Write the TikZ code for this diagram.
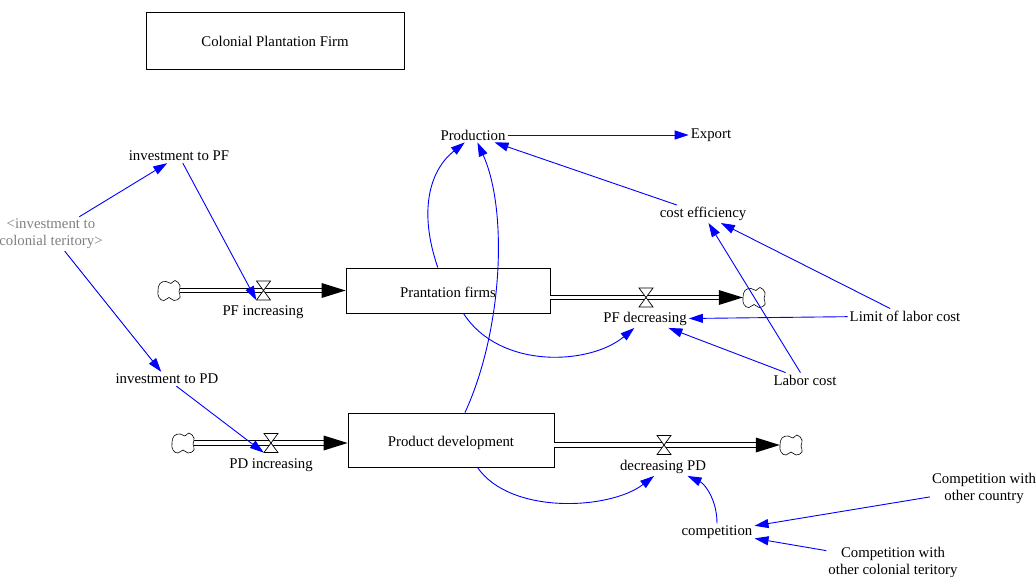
\documentclass[tikz,border=0pt]{standalone}
\usepackage{fontspec}
\setmainfont{Liberation Serif}
\usetikzlibrary{arrows.meta}
\begin{document}
\begin{tikzpicture}[x=1pt,y=-1pt,
  txt/.style={font=\fontsize{14.8}{17}\selectfont, inner sep=2pt, align=center, yshift=-2pt},
  stock/.style={draw=black, line width=0.8pt, fill=white, inner sep=0pt,
    font=\fontsize{14.8}{17}\selectfont},
  link/.style={draw=blue, line width=0.9pt, -{Triangle[length=14pt,width=9pt]}},
  pipe/.style={draw=black, line width=1pt, double=white, double distance=3.4pt, shorten >=20pt},
  valvenode/.style={minimum width=14pt, minimum height=19pt, inner sep=0pt},
  cloudnode/.style={minimum width=22pt, minimum height=20pt, inner sep=0pt},
  valve/.pic={
    \filldraw[fill=white, draw=black, line width=0.7pt] (-7,-9.5) -- (7,-9.5) -- (0,0) -- cycle;
    \filldraw[fill=white, draw=black, line width=0.7pt] (-7,9.5) -- (7,9.5) -- (0,0) -- cycle;
  },
  cloud/.pic={
    \draw[black, line width=0.6pt, fill=white] plot[smooth cycle, tension=0.8] coordinates
      {(-11,0) (-9,-7) (-3,-9) (2,-7) (6,-10) (11,-5) (10,1) (11,7) (5,10) (0,7) (-5,10) (-10,7)};
  }
]
\useasboundingbox (0,0) rectangle (1036,576);

% title
\node[stock, minimum width=258pt, minimum height=57pt, text height=12pt, text depth=0pt] (title) at (275,40.5) {Colonial Plantation Firm};

% stocks
\node[stock, minimum width=204pt, minimum height=45pt, text height=14pt, text depth=0pt] (boxPF) at (448,290.5) {Prantation firms};
\node[stock, minimum width=206pt, minimum height=54pt, text height=14pt, text depth=0.5pt] (boxPD) at (451,440) {Product development};

% clouds and valves (positions)
\node[cloudnode] (cPFi) at (169,290.5) {};
\node[cloudnode] (cPFo) at (754,297.5) {};
\node[cloudnode] (cPDi) at (183,443) {};
\node[cloudnode] (cPDo) at (791,445) {};
\node[valvenode] (vPFi) at (263.5,290.5) {};
\node[valvenode] (vPFo) at (646,297.5) {};
\node[valvenode] (vPDi) at (271,443) {};
\node[valvenode] (vPDo) at (664,445) {};

% pipes
\draw[pipe] (cPFi.east) -- (boxPF.west |- cPFi);
\draw[pipe] (boxPF.east |- cPFo) -- (cPFo.west);
\draw[pipe] (cPDi.east) -- (boxPD.west |- cPDi);
\draw[pipe] (boxPD.east |- cPDo) -- (cPDo.west);
\fill[black] (boxPF.west |- cPFi) -- ++(-24,-7.5) -- ++(0,15) -- cycle;
\fill[black] (cPFo.west) -- ++(-24,-7.5) -- ++(0,15) -- cycle;
\fill[black] (boxPD.west |- cPDi) -- ++(-24,-7.5) -- ++(0,15) -- cycle;
\fill[black] (cPDo.west) -- ++(-24,-7.5) -- ++(0,15) -- cycle;
\pic at (vPFi) {valve};
\pic at (vPFo) {valve};
\pic at (vPDi) {valve};
\pic at (vPDo) {valve};
\pic at (cPFi) {cloud};
\pic at (cPFo) {cloud};
\pic at (cPDi) {cloud};
\pic at (cPDo) {cloud};

% flow labels
\node[txt] (PFinc) at (263,310) {PF increasing};
\node[txt] (PFdec) at (645,317) {PF decreasing};
\node[txt] (PDinc) at (271,463) {PD increasing};
\node[txt] (decPD) at (663,465) {decreasing PD};

% variables
\node[txt] (prod) at (473,133) {Production};
\node[txt] (export) at (711,133) {Export};
\node[txt] (invPF) at (179,154) {investment to PF};
\node[txt] (invPD) at (167,377) {investment to PD};
\node[txt, text=black!50] (invCT) at (51,232) {<investment to\\colonial teritory>};
\node[txt] (costeff) at (703,212) {cost efficiency};
\node[txt] (limit) at (905,314) {Limit of labor cost};
\node[txt] (labor) at (805,378) {Labor cost};
\node[txt] (comp) at (717,530) {competition};
\node[txt] (cwoc) at (984,486) {Competition with\\other country};
\node[txt] (cwcol) at (893,560) {Competition with\\other colonial teritory};

% links
\draw[link] (invCT) -- (invPF);
\draw[link] (invPF) -- (vPFi.south west);
\draw[link] (invCT) -- (invPD);
\draw[link] (invPD) -- (vPDi.south west);
\draw[link] (prod) -- (export);
\draw[link] (costeff) -- (prod);
\draw[link] (limit) -- (costeff);
\draw[link] (labor) -- (costeff);
\draw[link] (limit) -- (PFdec);
\draw[link] (labor) -- (PFdec);
\draw[link] (boxPF.114) .. controls (418,210) and (430,170) .. (prod.-138);
\draw[link] (boxPD.63) .. controls (503,330) and (508,210) .. (prod.-59);
\draw[link] (boxPF.-56) .. controls (500,370) and (590,365) .. (PFdec.-140);
\draw[link] (boxPD.-46) .. controls (510,515) and (610,510) .. (decPD.-135);
\draw[link] (comp) .. controls (717,500) and (705,484) .. (decPD.-20);
\draw[link] (cwoc) -- (comp);
\draw[link] (cwcol) -- (comp);
\end{tikzpicture}
\end{document}
